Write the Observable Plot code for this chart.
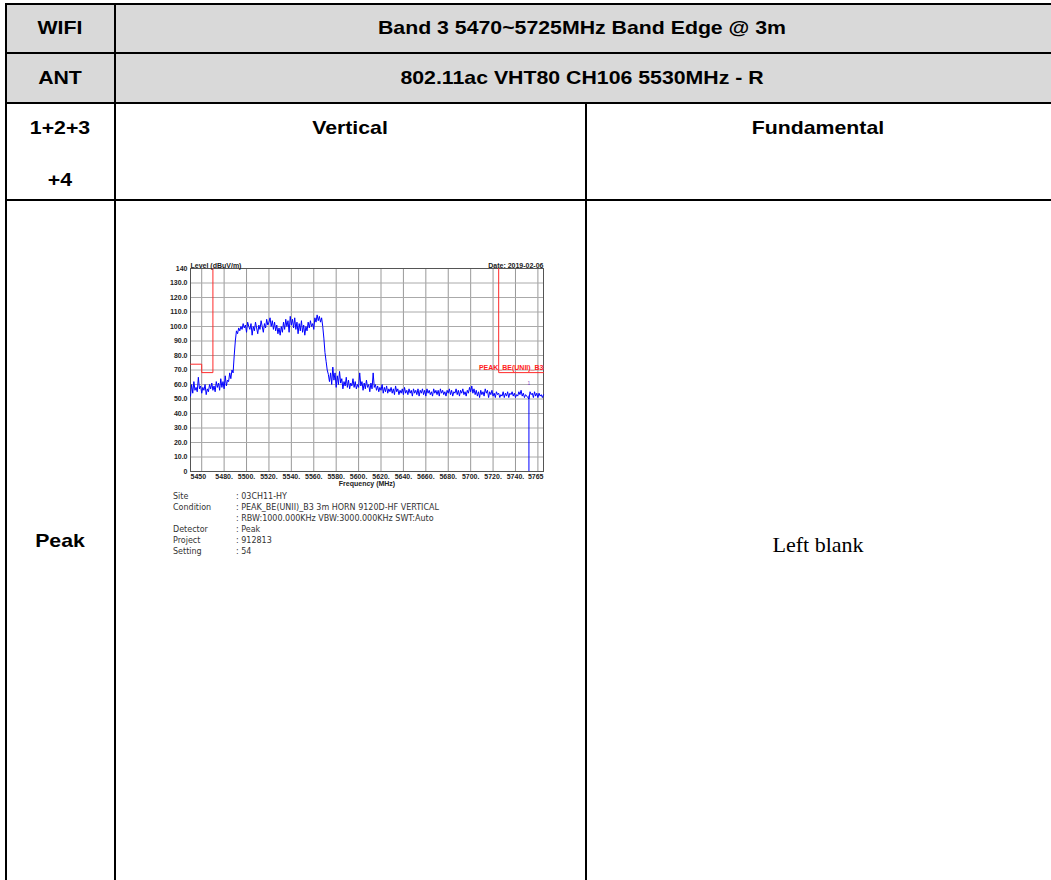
<!DOCTYPE html>
<html><head><meta charset="utf-8">
<script src="https://cdn.jsdelivr.net/npm/d3@7"></script>
<script src="https://cdn.jsdelivr.net/npm/@observablehq/plot@0.6"></script>
<style>
body{margin:0;background:#fff;width:1051px;height:880px;overflow:hidden;position:relative;font-family:"Liberation Sans",Arial,sans-serif;}
.hdr{position:absolute;background:#d9d9d9;}
.ln{position:absolute;background:#000;}
.t{position:absolute;font-weight:bold;font-size:19px;transform:translate(-50%,-50%) scaleX(1.12);white-space:nowrap;color:#000;}
#chart{position:absolute;left:150px;top:255px;}
#info{position:absolute;left:173px;top:491px;font-family:"DejaVu Sans",sans-serif;font-size:8px;color:#333;line-height:11px;}
#info div{white-space:nowrap;}
#info span{display:inline-block;width:63px;}
</style></head><body>
<div class="hdr" style="left:7px;top:5px;width:1044px;height:47px"></div>
<div class="hdr" style="left:7px;top:54px;width:1044px;height:48px"></div>
<div class="ln" style="left:5px;top:3px;width:1046px;height:2px"></div>
<div class="ln" style="left:5px;top:52px;width:1046px;height:2px"></div>
<div class="ln" style="left:5px;top:102px;width:1046px;height:2px"></div>
<div class="ln" style="left:5px;top:199px;width:1046px;height:2px"></div>
<div class="ln" style="left:5px;top:3px;width:2px;height:877px"></div>
<div class="ln" style="left:114px;top:3px;width:2px;height:877px"></div>
<div class="ln" style="left:585px;top:102px;width:2px;height:778px"></div>

<div class="t" style="left:60px;top:28px">WIFI</div>
<div class="t" style="left:582px;top:28px">Band 3 5470~5725MHz Band Edge @ 3m</div>
<div class="t" style="left:60px;top:78px">ANT</div>
<div class="t" style="left:582px;top:78px">802.11ac VHT80 CH106 5530MHz - R</div>
<div class="t" style="left:60px;top:128px">1+2+3</div>
<div class="t" style="left:60px;top:180px">+4</div>
<div class="t" style="left:350px;top:128px">Vertical</div>
<div class="t" style="left:818px;top:128px">Fundamental</div>
<div class="t" style="left:60px;top:541px">Peak</div>
<div class="t" style="left:818px;top:545px;font-family:'Liberation Serif',serif;font-weight:normal;font-size:22px;transform:translate(-50%,-50%)">Left blank</div>

<div id="chart"></div>
<div id="info"></div>

<script>
// ---- data ----
const freqStart = 5450;
const freqStep = 1;
const levels = [
  52,60,54,62,56,58,55,65,57,59, 54,58,56,60,53,57,55,60,57,61, 56,59,55,62,58,61,56,64,58,62,
  57,66,59,63,62,68,64,70,68,80,
  90,97,95,99,97,100,98,102,99,101,
  96,103,100,98,102,94,100,97,103,99,
  95,101,98,104,100,96,102,99,105,101,
  103,106,100,104,98,103,97,101,95,99,
  94,100,96,103,98,105,100,104,96,107,
  101,105,99,106,98,103,95,102,97,104,
  96,101,94,100,97,103,99,104,100,102,
  98,106,103,108,104,107,103,106,100,92,
  82,76,70,67,62,68,60,72,63,68,
  58,66,60,69,61,64,57,62,59,65,
  58,63,57,61,59,64,58,62,57,60,
  58,68,59,62,56,61,57,63,58,60,
  55,61,57,68,58,60,56,59,55,58,
  56,60,54,58,55,59,54,57,55,58,
  54,57,53,59,55,57,53,56,54,57,
  53,58,54,56,53,57,54,56,52,57,
  54,56,53,57,52,56,54,57,53,56,
  52,57,54,56,53,55,52,57,54,56,
  53,56,52,57,54,56,53,55,52,56,
  54,57,53,56,52,55,54,57,53,56,
  52,56,54,57,53,55,52,56,54,58,
  55,59,54,57,53,56,52,55,51,56,
  53,55,52,57,54,56,51,55,53,56,
  52,54,51,55,53,54,51,53,52,55,
  51,54,52,55,51,54,53,55,52,54,
  51,53,52,55,53,56,52,54,51,53,
  52,51,50,55,53,54,51,55,52,54,
  51,54,52,53,51,53
];
const limitLeft = [
  {f:5450, v:74}, {f:5460, v:74}, {f:5460, v:68.2}, {f:5470, v:68.2}, {f:5470, v:140}
];
const limitRight = [
  {f:5725, v:140}, {f:5725, v:68.2}, {f:5765, v:68.2}
];
const limitName = "PEAK_BE(UNII)_B3";
const marker = [{f:5752, v:52, top:60.5, label:"1"}];
const xDomain = [5450, 5765];
const yDomain = [0, 140];
const xGrid = [5460,5480,5500,5520,5540,5560,5580,5600,5620,5640,5660,5680,5700,5720,5740,5760];
const xLabelsMid = [5480,5500,5520,5540,5560,5580,5600,5620,5640,5660,5680,5700,5720,5740];
const xLabelFirst = [5450];
const xLabelLast = [5765];
const yTicks = [0,10,20,30,40,50,60,70,80,90,100,110,120,130,140];
const yTitle = "Level (dBuV/m)";
const xTitle = "Frequency (MHz)";
const dateText = "Date: 2019-02-06";
const infoRows = [
  ["Site", ": 03CH11-HY"],
  ["Condition", ": PEAK_BE(UNII)_B3 3m HORN 9120D-HF VERTICAL"],
  ["", ": RBW:1000.000KHz VBW:3000.000KHz SWT:Auto"],
  ["Detector", ": Peak"],
  ["Project", ": 912813"],
  ["Setting", ": 54"]
];

// ---- chart ----
const trace = levels.map((v, i) => ({f: freqStart + i * freqStep, v}));
const lab = {fontWeight: "bold", fill: "#222"};
const chart = Plot.plot({
  width: 400, height: 240,
  marginLeft: 40, marginRight: 7, marginTop: 13, marginBottom: 24,
  x: {domain: xDomain, label: null},
  y: {domain: yDomain, label: null},
  style: {fontFamily: "'Liberation Sans', Arial, sans-serif", fontSize: "7px", background: "white", overflow: "visible"},
  marks: [
    Plot.gridX(xGrid, {stroke: "#999", strokeOpacity: 1}),
    Plot.gridY(yTicks, {stroke: "#aaa", strokeOpacity: 1}),
    Plot.frame({stroke: "#555"}),
    Plot.axisY(yTicks, {tickSize: 0, tickPadding: 3, tickFormat: d => (d === 0 || d === 140) ? String(d) : d.toFixed(1), ...lab}),
    Plot.axisX(xLabelsMid, {tickSize: 0, tickPadding: 3, tickFormat: d => d + ".", ...lab}),
    Plot.axisX(xLabelFirst, {tickSize: 0, tickPadding: 3, tickFormat: d => String(d), textAnchor: "start", ...lab}),
    Plot.axisX(xLabelLast, {tickSize: 0, tickPadding: 3, tickFormat: d => String(d), textAnchor: "end", ...lab}),
    Plot.line(limitLeft, {x: "f", y: "v", stroke: "#ff2a2a", strokeWidth: 1}),
    Plot.line(limitRight, {x: "f", y: "v", stroke: "#ff2a2a", strokeWidth: 1}),
    Plot.text(limitRight.slice(-1), {x: "f", y: "v", text: () => limitName, textAnchor: "end", dy: -5, fill: "#ff2020", fontWeight: "bold", fontSize: 7}),
    Plot.line(trace, {x: "f", y: "v", stroke: "#0000ff", strokeWidth: 1}),
    Plot.ruleX(marker, {x: "f", y1: 0, y2: "v", stroke: "#0000ff", strokeWidth: 1}),
    Plot.text(marker, {x: "f", y: "top", text: "label", fill: "#8040c0", fontSize: 5}),
    Plot.text([yTitle], {frameAnchor: "top-left", text: d => d, textAnchor: "start", dy: -5, ...lab}),
    Plot.text([dateText], {frameAnchor: "top-right", text: d => d, textAnchor: "end", dy: -5, ...lab}),
    Plot.text([xTitle], {frameAnchor: "bottom", text: d => d, dy: 14, ...lab})
  ]
});
document.getElementById("chart").appendChild(chart);

const info = document.getElementById("info");
for (const [k, v] of infoRows) {
  const row = document.createElement("div");
  const s = document.createElement("span");
  s.textContent = k;
  row.appendChild(s);
  row.appendChild(document.createTextNode(v));
  info.appendChild(row);
}
</script>
</body></html>
